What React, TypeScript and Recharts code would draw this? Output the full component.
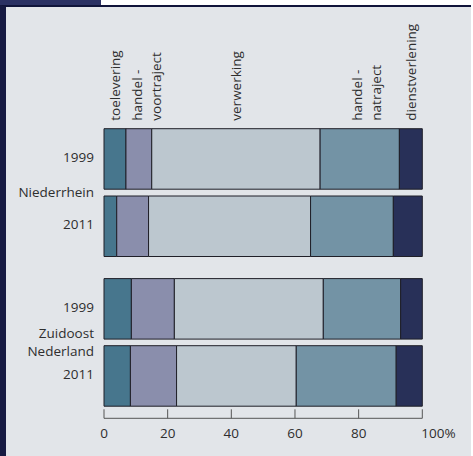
import React from 'react';
import { BarChart, Bar, XAxis, YAxis, LabelList } from 'recharts';

// values in % per region, per year
const years = ['1999', '2011'];
const seriesKeys = ['toelevering', 'handelVoor', 'verwerking', 'handelNa', 'dienst'];
const seriesLabels = [['toelevering'], ['handel -', 'voortraject'], ['verwerking'], ['handel -', 'natraject'], ['dienstverlening']];
const seriesColors = ['#47768d', '#8a8eac', '#bcc7cf', '#7393a5', '#283058'];

const niederrheinToelevering = [6.9, 4.0];
const niederrheinHandelVoor = [8.1, 10.0];
const niederrheinVerwerking = [52.9, 50.9];
const niederrheinHandelNa = [24.9, 26.0];
const niederrheinDienst = [7.2, 9.1];

const zuidoostToelevering = [8.6, 8.3];
const zuidoostHandelVoor = [13.5, 14.5];
const zuidoostVerwerking = [46.8, 37.6];
const zuidoostHandelNa = [24.3, 31.4];
const zuidoostDienst = [6.8, 8.2];

const xTicks = [0, 20, 40, 60, 80, 100];

const buildRows = (cols: number[][]) =>
  years.map((year, i) => {
    const row: any = { year };
    seriesKeys.forEach((k, j) => (row[k] = cols[j][i]));
    return row;
  });

const niederrheinData = buildRows([niederrheinToelevering, niederrheinHandelVoor, niederrheinVerwerking, niederrheinHandelNa, niederrheinDienst]);
const zuidoostData = buildRows([zuidoostToelevering, zuidoostHandelVoor, zuidoostVerwerking, zuidoostHandelNa, zuidoostDienst]);

const FONT = '"Open Sans", sans-serif';
const FS = 13.5;
const TEXT = '#2e2e2e';
const W = 473;
const PLOT_LEFT = 104;
const PLOT_RIGHT = 50.7;
const BAR = 60.5;

// rotated series names above the first bar
const renderHeader = (lines: string[]) => (props: any) => {
  const { x, y, width, index } = props;
  if (index !== 0) return null;
  const cx = Number(x) + Number(width) / 2;
  const y0 = Number(y) - 8;
  const offs = lines.length === 1 ? [0] : [-2, 17];
  return (
    <text transform={`rotate(-90 ${cx} ${y0})`} fontSize={FS} fontFamily={FONT} fill={TEXT} textAnchor="start">
      {lines.map((l, i) => (
        <tspan key={i} x={cx} y={y0 + offs[i]} dy="0.35em">{l}</tspan>
      ))}
    </text>
  );
};

const YTick = (props: any) => {
  const { x, y, payload } = props;
  return (
    <text x={x} y={y - 2} dy="0.35em" textAnchor="end" fontSize={FS} fontFamily={FONT} fill={TEXT}>
      {payload.value}
    </text>
  );
};

const AxisTick = (props: any) => {
  const { x, y, payload, index } = props;
  const plotW = W - PLOT_LEFT - PLOT_RIGHT;
  const isLast = payload.value === 100;
  return (
    <g>
      {index === 0 && <line x1={x} x2={x + plotW} y1={y + 8.5} y2={y + 8.5} stroke="#555" strokeWidth={1} />}
      <line x1={x} x2={x} y1={y - 0.5} y2={y + 8.5} stroke="#555" strokeWidth={1} />
      <text
        x={isLast ? x - 1 : x}
        y={y + 28}
        textAnchor={isLast ? 'start' : 'middle'}
        fontSize={FS}
        fontFamily={FONT}
        fill={TEXT}
      >
        {isLast ? '100%' : payload.value}
      </text>
    </g>
  );
};

const renderBars = (withHeader: boolean) =>
  seriesKeys.map((k, j) => (
    <Bar
      key={k}
      dataKey={k}
      stackId="a"
      fill={seriesColors[j]}
      stroke="#1f1f28"
      strokeWidth={1}
      barSize={BAR}
      isAnimationActive={false}
    >
      {withHeader && <LabelList dataKey={k} content={renderHeader(seriesLabels[j])} />}
    </Bar>
  ));

const yAxisProps = {
  type: 'category' as const,
  dataKey: 'year',
  width: PLOT_LEFT,
  axisLine: false,
  tickLine: false,
  tickSize: 0,
  tickMargin: 10,
  tick: <YTick />,
};

const groupLabel = (text: string, cy: number) => (
  <div
    style={{
      position: 'absolute',
      left: 0,
      top: cy - 9,
      width: 94,
      height: 18,
      textAlign: 'right',
      fontSize: FS,
      lineHeight: '18px',
      color: TEXT,
      whiteSpace: 'nowrap',
    }}
  >
    {text}
  </div>
);

export default function App() {
  return (
    <div style={{ position: 'absolute', left: 0, top: 0, width: W, height: 456, background: '#fff', fontFamily: FONT }}>
      <div style={{ position: 'absolute', left: 0, top: 0, width: 101, height: 6, background: '#2b3163' }} />
      <div
        style={{
          position: 'absolute',
          left: 0,
          top: 5,
          width: W - 6 - 2,
          height: 456 - 5 - 2,
          background: '#e2e5e9',
          borderLeft: '6px solid #161a42',
          borderTop: '2px solid #10143a',
        }}
      />

      <div style={{ position: 'absolute', left: 0, top: 0 }}>
        <BarChart
          width={W}
          height={262}
          data={niederrheinData}
          layout="vertical"
          margin={{ top: 125.7, right: PLOT_RIGHT, bottom: 1.7, left: 0 }}
          barCategoryGap={0}
        >
          <XAxis type="number" domain={[0, 100]} hide />
          <YAxis {...yAxisProps} />
          {renderBars(true)}
        </BarChart>
      </div>

      <div style={{ position: 'absolute', left: 0, top: 262 }}>
        <BarChart
          width={W}
          height={194}
          data={zuidoostData}
          layout="vertical"
          margin={{ top: 13.6, right: PLOT_RIGHT, bottom: 16.2, left: 0 }}
          barCategoryGap={0}
        >
          <XAxis
            type="number"
            domain={[0, 100]}
            ticks={xTicks}
            height={30}
            axisLine={false}
            tickLine={false}
            tickSize={0}
            tickMargin={0}
            interval={0}
            tick={<AxisTick />}
          />
          <YAxis {...yAxisProps} />
          {renderBars(false)}
        </BarChart>
      </div>

      {groupLabel('Niederrhein', 191.7)}
      {groupLabel('Zuidoost', 333)}
      {groupLabel('Nederland', 351)}
    </div>
  );
}
